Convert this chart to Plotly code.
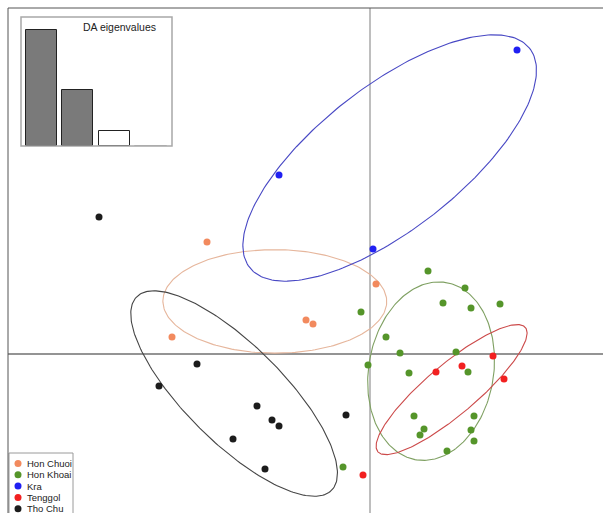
import numpy as np
import plotly.graph_objects as go

# ---------------- data (LD1, LD2 scores) ----------------
groups = ["Hon Chuoi", "Hon Khoai", "Kra", "Tenggol", "Tho Chu"]

hon_chuoi_x = [-3.26, 0.12, -1.28, -1.14, -3.96]
hon_chuoi_y = [2.24, 1.40, 0.68, 0.60, 0.34]

hon_khoai_x = [1.16, 1.90, 1.46, 2.02, 2.60, -0.18, 0.32, 0.60, 1.72, -0.04,
               0.78, 1.96, 0.88, 2.08, 1.08, 2.02, 1.00, 2.08, 1.54, -0.54]
hon_khoai_y = [1.66, 1.32, 1.02, 0.92, 1.00, 0.84, 0.34, 0.02, 0.04, -0.22,
               -0.38, -0.36, -1.24, -1.24, -1.50, -1.52, -1.62, -1.74, -1.94, -2.26]

kra_x = [2.94, -1.82, 0.06]
kra_y = [6.08, 3.58, 2.10]

tenggol_x = [2.46, 1.32, 1.84, 2.68, -0.14]
tenggol_y = [-0.04, -0.36, -0.24, -0.50, -2.42]

tho_chu_x = [-5.42, -3.46, -4.22, -2.26, -1.96, -1.82, -2.74, -2.10, -0.48]
tho_chu_y = [2.74, -0.20, -0.64, -1.04, -1.32, -1.44, -1.70, -2.30, -1.22]

da_eigenvalues = [116, 56, 15, 0.4]

# ---------------- styles ----------------
point_colors = ["#F28A5E", "#55952A", "#2020F2", "#F22020", "#1C1C1C"]
ellipse_colors = ["#E6B69C", "#7FA062", "#4848C4", "#CC4A4A", "#454545"]
bar_fill = ["#7A7A7A", "#7A7A7A", "#FFFFFF", "#FFFFFF"]
bar_line = ["#222222", "#222222", "#222222", "#BBBBBB"]

W, H = 603, 513
X_RANGE = [-7.4, 4.66]
Y_RANGE = [-3.18, 7.08]

series = [
    (hon_chuoi_x, hon_chuoi_y),
    (hon_khoai_x, hon_khoai_y),
    (kra_x, kra_y),
    (tenggol_x, tenggol_y),
    (tho_chu_x, tho_chu_y),
]


def cov_ellipse(xs, ys, coeff=1.5, n=240):
    xs = np.asarray(xs, float)
    ys = np.asarray(ys, float)
    mx, my = xs.mean(), ys.mean()
    cov = np.cov(xs, ys, bias=True)
    vals, vecs = np.linalg.eigh(cov)
    vals = np.clip(vals, 0, None)
    t = np.linspace(0, 2 * np.pi, n)
    circ = np.vstack([np.cos(t), np.sin(t)])
    pts = vecs @ (coeff * np.sqrt(vals)[:, None] * circ)
    return mx + pts[0], my + pts[1]


fig = go.Figure()

# ellipses
for (xs, ys), col in zip(series, ellipse_colors):
    ex, ey = cov_ellipse(xs, ys)
    fig.add_trace(go.Scatter(x=ex, y=ey, mode="lines",
                             line=dict(color=col, width=1.1),
                             hoverinfo="skip", showlegend=False))

# points
for name, (xs, ys), col in zip(groups, series, point_colors):
    fig.add_trace(go.Scatter(x=xs, y=ys, mode="markers", name=name,
                             marker=dict(color=col, size=7, line=dict(width=0)),
                             showlegend=False))

# inset: DA eigenvalues bar plot
fig.add_trace(go.Bar(x=list(range(1, len(da_eigenvalues) + 1)), y=da_eigenvalues,
                     width=0.85, xaxis="x2", yaxis="y2",
                     marker=dict(color=bar_fill, line=dict(color=bar_line, width=1)),
                     showlegend=False, hoverinfo="skip"))

# manual legend (pixel-space overlay axis)
leg_y0, leg_dy = 463.5, 11.3
fig.add_trace(go.Scatter(x=[18] * len(groups),
                         y=[leg_y0 + i * leg_dy for i in range(len(groups))],
                         mode="markers", xaxis="x3", yaxis="y3",
                         marker=dict(color=point_colors, size=7),
                         showlegend=False, hoverinfo="skip"))

px = lambda v: v / W
py = lambda v: 1 - v / H

shapes = [
    # axes through origin
    dict(type="line", xref="x", yref="y", x0=(8 - 370) / 50, x1=X_RANGE[1], y0=0, y1=0,
         line=dict(color="#707070", width=1.5), layer="below"),
    dict(type="line", xref="x", yref="y", x0=0, x1=0, y0=Y_RANGE[0], y1=(354 - 8) / 50,
         line=dict(color="#A8A8A8", width=1.5), layer="below"),
    # plot frame (top & left)
    dict(type="line", xref="paper", yref="paper", x0=px(8), x1=1.01, y0=py(8), y1=py(8),
         line=dict(color="#555555", width=1)),
    dict(type="line", xref="paper", yref="paper", x0=px(8), x1=px(8), y0=py(8), y1=-0.01,
         line=dict(color="#555555", width=1)),
    # inset frame
    dict(type="rect", xref="paper", yref="paper", x0=px(21), x1=px(172), y0=py(146), y1=py(17),
         line=dict(color="#A8A8A8", width=1.5), fillcolor="rgba(0,0,0,0)"),
    # legend box
    dict(type="rect", xref="paper", yref="paper", x0=px(9), x1=px(73), y0=-0.02, y1=py(453),
         line=dict(color="#9A9A9A", width=1), fillcolor="white", layer="below"),
]

annotations = [
    dict(text="DA eigenvalues", xref="paper", yref="paper", x=px(119), y=py(27),
         xanchor="center", yanchor="middle", showarrow=False,
         font=dict(family="Liberation Sans, Arial", size=10.5, color="#222222")),
]
for i, g in enumerate(groups):
    annotations.append(dict(text=g, xref="paper", yref="paper", x=px(25), y=py(leg_y0 + i * leg_dy),
                            xanchor="left", yanchor="middle", showarrow=False,
                            font=dict(family="Liberation Sans, Arial", size=9.5, color="#222222")))

noax = dict(showgrid=False, zeroline=False, showline=False, showticklabels=False, ticks="")

fig.update_layout(
    width=W, height=H,
    margin=dict(l=0, r=0, t=0, b=0, pad=0),
    paper_bgcolor="white", plot_bgcolor="rgba(0,0,0,0)",
    xaxis=dict(range=X_RANGE, domain=[0, 1], **noax),
    yaxis=dict(range=Y_RANGE, domain=[0, 1], **noax),
    xaxis2=dict(range=[0.44, 4.575], domain=[px(21), px(172)], anchor="y2", **noax),
    yaxis2=dict(range=[0, 129], domain=[py(146), py(17)], anchor="x2", **noax),
    xaxis3=dict(range=[0, W], domain=[0, 1], anchor="y3", overlaying="x", **noax),
    yaxis3=dict(range=[H, 0], domain=[0, 1], anchor="x3", overlaying="y", **noax),
    shapes=shapes, annotations=annotations,
    showlegend=False, bargap=0,
)

fig.write_html("out.html", config={"displayModeBar": False},
               post_script="document.body.style.margin='0';document.body.style.overflow='hidden';")
